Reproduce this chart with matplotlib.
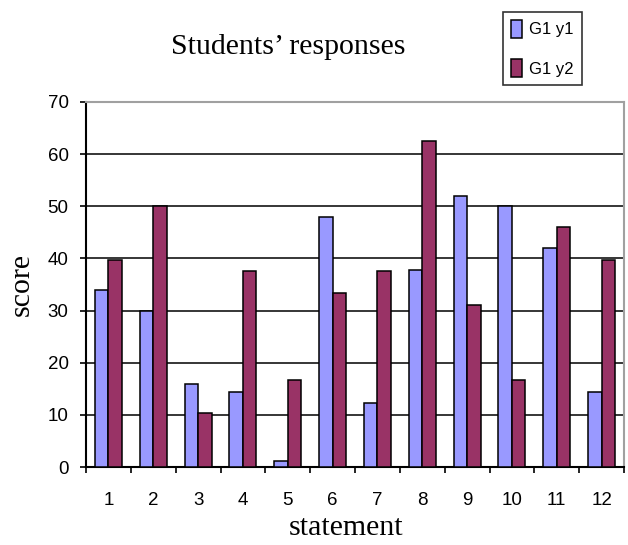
import matplotlib
matplotlib.use("Agg")
import matplotlib.pyplot as plt
import numpy as np

statements = ["1", "2", "3", "4", "5", "6", "7", "8", "9", "10", "11", "12"]
g1_y1 = [34, 30, 16, 14.3, 1.1, 48, 12.2, 37.8, 52, 50, 42, 14.3]
g1_y2 = [39.7, 50, 10.3, 37.5, 16.7, 33.3, 37.5, 62.5, 31, 16.7, 46, 39.7]
series_names = ["G1 y1", "G1 y2"]
yticks = [0, 10, 20, 30, 40, 50, 60, 70]

W, H = 628, 545
fig = plt.figure(figsize=(W / 100, H / 100), dpi=100)
ax = fig.add_axes([86 / W, 1 - 467 / H, (624 - 86) / W, (467 - 102) / H])

x = np.arange(1, len(statements) + 1)
bw = 0.3
b1 = ax.bar(x - bw / 2, g1_y1, bw, color="#9999FF", edgecolor="black", linewidth=1.1, zorder=3)
b2 = ax.bar(x + bw / 2, g1_y2, bw, color="#993366", edgecolor="black", linewidth=1.1, zorder=3)

ax.set_xlim(0.5, len(statements) + 0.5)
ax.set_ylim(0, 70)
ax.set_yticks(yticks)
ax.set_yticklabels([str(v) for v in yticks], family="Liberation Sans", fontsize=13.5)
for v in yticks[1:-1]:
    ax.axhline(v, color="black", linewidth=1.1, zorder=1)

# category ticks at boundaries, labels at centers
ax.set_xticks(np.arange(0.5, len(statements) + 1.0, 1.0))
ax.set_xticklabels([])
ax.set_xticks(x, minor=True)
ax.set_xticklabels(statements, minor=True, family="Liberation Sans", fontsize=13.5)
ax.tick_params(axis="x", which="minor", length=0, pad=18)
ax.tick_params(axis="x", which="major", length=4, width=1.2, direction="out")
ax.tick_params(axis="y", length=4.5, width=1.2, direction="out", pad=8)

for s in ["top", "right"]:
    ax.spines[s].set_color("#a0a0a0")
    ax.spines[s].set_linewidth(1.5)
for s in ["left", "bottom"]:
    ax.spines[s].set_color("black")
    ax.spines[s].set_linewidth(1.5)

fig.text(346 / W, 1 - 528 / H, "statement", family="Liberation Serif",
         fontsize=21.5, ha="center", va="center")
fig.text(22 / W, 1 - 285 / H, "score", family="Liberation Serif",
         fontsize=21.5, ha="center", va="center", rotation=90)
fig.text(288 / W, 1 - 47 / H, "Students\u2019 responses", family="Liberation Serif",
         fontsize=21.5, ha="center", va="center")

leg = fig.legend([b1, b2], series_names, loc="upper left",
                 bbox_to_anchor=(502.7 / W, 1 - 11.7 / H),
                 prop={"family": "Liberation Sans", "size": 12},
                 frameon=True, fancybox=False, edgecolor="black",
                 handlelength=0.65, handleheight=1.25, handletextpad=0.45,
                 labelspacing=1.3, borderpad=0.5, borderaxespad=0)
leg.get_frame().set_linewidth(1.2)

fig.savefig("out.png", dpi=100)
